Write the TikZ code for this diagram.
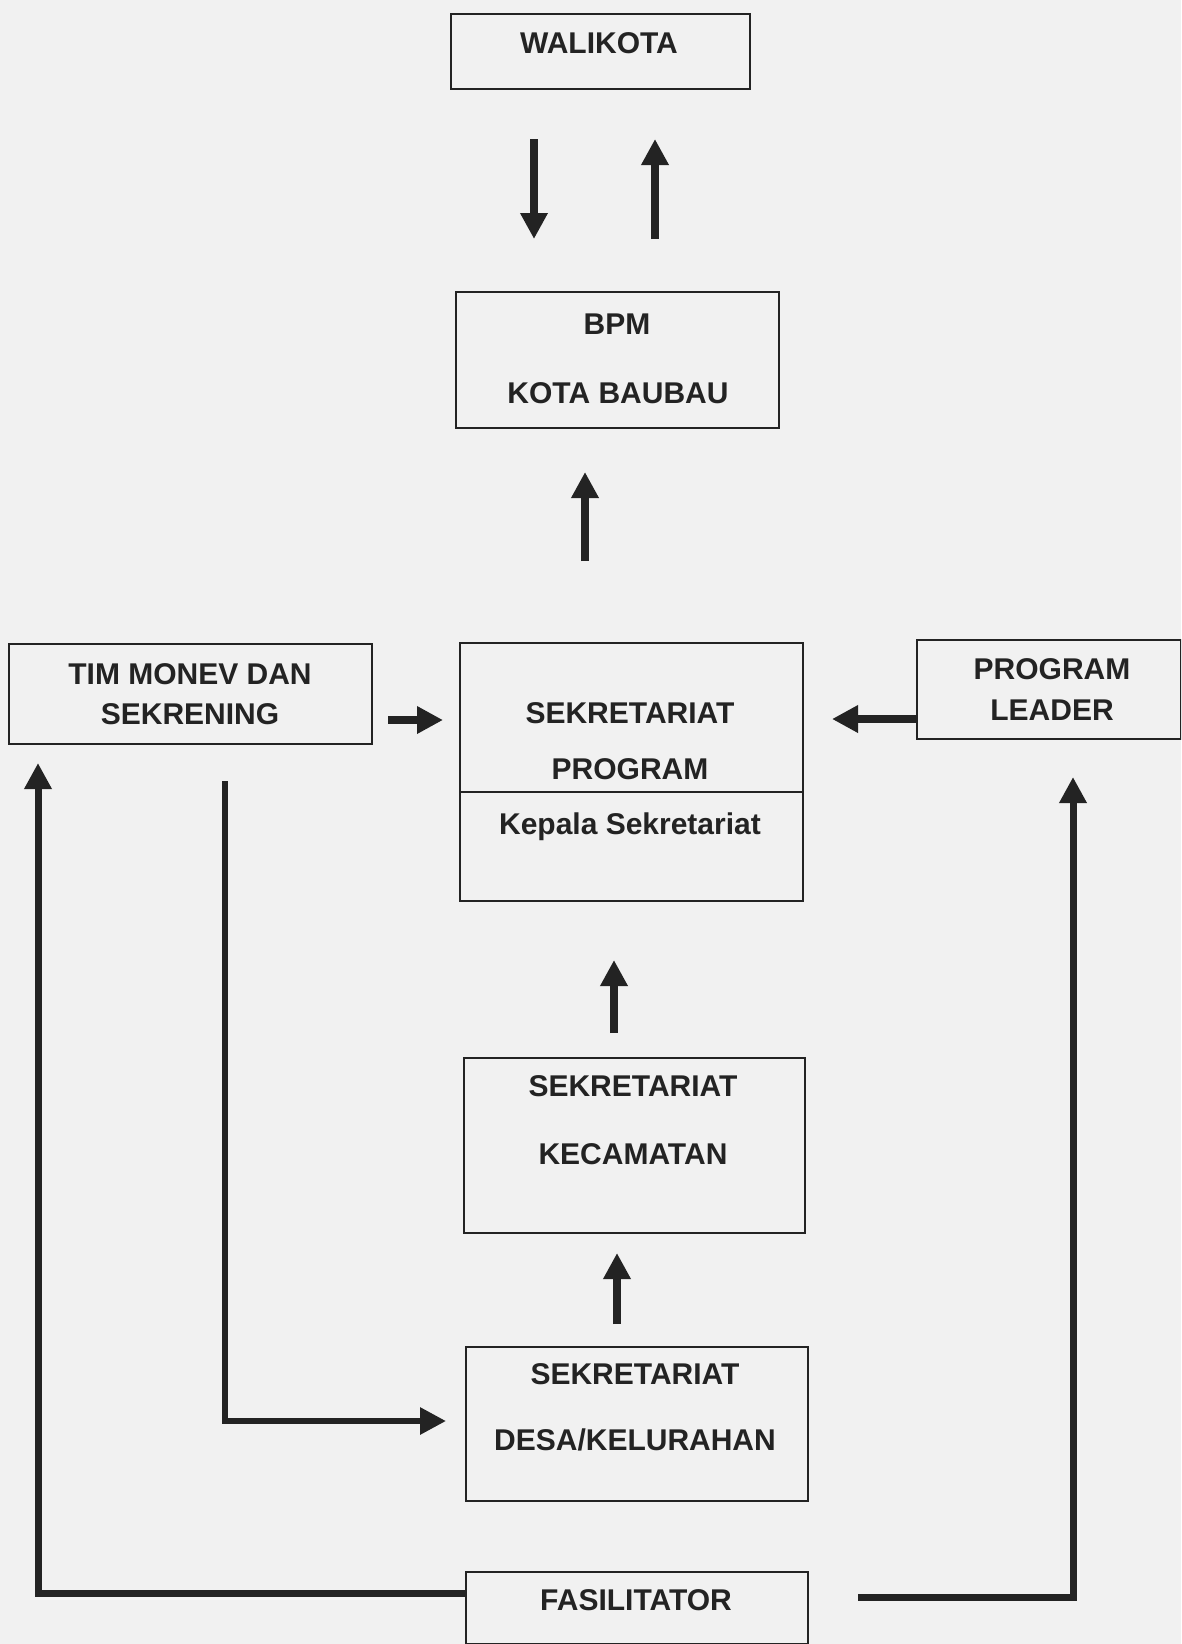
\documentclass[tikz,border=0pt]{standalone}
\usepackage{fontspec}
\setmainfont{Liberation Sans}
\usetikzlibrary{arrows.meta}
\definecolor{ink}{RGB}{35,35,35}
\definecolor{paper}{RGB}{241,241,241}
\tikzset{
  box/.style={draw=ink, line width=2pt, inner sep=0pt, anchor=north west},
  lbl/.style={text=ink, font=\bfseries\fontsize{30}{36}\selectfont, inner sep=0pt, anchor=base},
  arr/.style={draw=ink, line width=8pt, -{Triangle[length=26pt,width=26pt]}},
  longarr/.style={draw=ink, line width=6pt, -{Triangle[length=26pt,width=26pt]}},
}
\begin{document}
\begin{tikzpicture}[x=1pt,y=-1pt]
\fill[paper] (0,0) rectangle (1181,1644);
\useasboundingbox (0,0) rectangle (1181,1644);
\begin{scope}
\clip (0,0) rectangle (1181,1644);
% boxes
\node[box, minimum width=299pt, minimum height=75pt] (wal) at (450,13) {};
\node[box, minimum width=323pt, minimum height=136pt] (bpm) at (455,291) {};
\node[box, minimum width=343pt, minimum height=258pt] (sp) at (459,642) {};
\node[box, minimum width=363pt, minimum height=100pt] (tim) at (8,643) {};
\node[box, minimum width=264pt, minimum height=99pt] (pl) at (916,639) {};
\node[box, minimum width=341pt, minimum height=175pt] (sk) at (463,1057) {};
\node[box, minimum width=342pt, minimum height=154pt] (sd) at (465,1346) {};
\node[box, minimum width=342pt, minimum height=72pt] (fas) at (465,1571) {};
\draw[ink, line width=2pt] (sp.west |- 0,792) coordinate (spdl) -- (sp.east |- 0,792) coordinate (spdr);
\end{scope}
% labels
\node[lbl] (twal) at (599,53) {WALIKOTA};
\node[lbl] (tbpm1) at (617,334) {BPM};
\node[lbl] (tbpm2) at (618,403) {KOTA BAUBAU};
\node[lbl] (tsp1) at (630,723) {SEKRETARIAT};
\node[lbl] (tsp2) at (630,779) {PROGRAM};
\node[lbl] (tsp3) at (630,834) {Kepala Sekretariat};
\node[lbl] (ttim1) at (190,684) {TIM MONEV DAN};
\node[lbl] (ttim2) at (190,724) {SEKRENING};
\node[lbl] (tpl1) at (1052,679) {PROGRAM};
\node[lbl] (tpl2) at (1052,720) {LEADER};
\node[lbl] (tsk1) at (633,1096) {SEKRETARIAT};
\node[lbl] (tsk2) at (633,1164) {KECAMATAN};
\node[lbl] (tsd1) at (635,1384) {SEKRETARIAT};
\node[lbl] (tsd2) at (635,1450) {DESA/KELURAHAN};
\node[lbl] (tfas) at (636,1610) {FASILITATOR};
% connector end points
\coordinate (a1s) at (534,139); \coordinate (a1e) at (534,239);
\coordinate (a2s) at (655,239); \coordinate (a2e) at (655,139);
\coordinate (a3s) at (585,561); \coordinate (a3e) at (585,472);
\coordinate (a4s) at (388,720); \coordinate (a4e) at (443,720);
\coordinate (a5e) at (832,719);
\coordinate (a6s) at (614,1033); \coordinate (a6e) at (614,960);
\coordinate (a7s) at (617,1324); \coordinate (a7e) at (617,1253);
\coordinate (a8s) at (225,781); \coordinate (a8c) at (225,1421); \coordinate (a8e) at (446,1421);
\coordinate (a9c) at (38,1593); \coordinate (a9e) at (38,763);
\coordinate (a10s) at (858,1597); \coordinate (a10c) at (1073,1597); \coordinate (a10e) at (1073,777);
% connectors
\draw[arr] (a1s) -- (a1e);
\draw[arr] (a2s) -- (a2e);
\draw[arr] (a3s) -- (a3e);
\draw[arr] (a4s) -- (a4e);
\draw[arr] (pl.west |- a5e) -- (a5e);
\draw[arr] (a6s) -- (a6e);
\draw[arr] (a7s) -- (a7e);
\draw[longarr] (a8s) -- (a8c) -- (a8e);
\draw[longarr, line width=7pt] (fas.west |- a9c) -- (a9c) -- (a9e);
\draw[longarr, line width=7pt] (a10s) -- (a10c) -- (a10e);
\end{tikzpicture}
\end{document}
